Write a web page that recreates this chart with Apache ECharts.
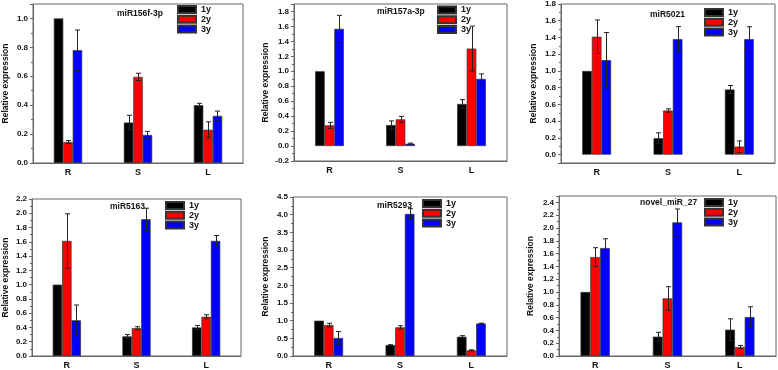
<!DOCTYPE html>
<html><head><meta charset="utf-8">
<script src="https://cdn.jsdelivr.net/npm/echarts@6/dist/echarts.min.js"></script>
<style>html,body{margin:0;padding:0;background:#fff}#c{width:778px;height:370px}</style>
</head><body><div id="c"></div>
<script>
// ---- data ----
const categories = ['R', 'S', 'L'];
const seriesNames = ['1y', '2y', '3y'];
const panelTitles = ['miR156f-3p', 'miR157a-3p', 'miR5021', 'miR5163', 'miR5293', 'novel_miR_27'];

const miR156f_1y = [1.0, 0.28, 0.40];    const miR156f_1y_err = [0, 0.05, 0.013];
const miR156f_2y = [0.145, 0.596, 0.23]; const miR156f_2y_err = [0.01, 0.025, 0.055];
const miR156f_3y = [0.78, 0.194, 0.326]; const miR156f_3y_err = [0.14, 0.025, 0.033];

const miR157a_1y = [1.0, 0.281, 0.563];  const miR157a_1y_err = [0, 0.055, 0.058];
const miR157a_2y = [0.277, 0.357, 1.304];const miR157a_2y_err = [0.04, 0.04, 0.30];
const miR157a_3y = [1.568, 0.031, 0.898];const miR157a_3y_err = [0.18, 0.008, 0.067];

const miR5021_1y = [1.0, 0.196, 0.778];  const miR5021_1y_err = [0, 0.064, 0.048];
const miR5021_2y = [1.409, 0.527, 0.096];const miR5021_2y_err = [0.2, 0.02, 0.068];
const miR5021_3y = [1.129, 1.38, 1.38];  const miR5021_3y_err = [0.33, 0.15, 0.148];

const miR5163_1y = [1.0, 0.275, 0.40];   const miR5163_1y_err = [0, 0.025, 0.028];
const miR5163_2y = [1.613, 0.39, 0.55];  const miR5163_2y_err = [0.38, 0.02, 0.028];
const miR5163_3y = [0.50, 1.916, 1.613]; const miR5163_3y_err = [0.215, 0.155, 0.075];

const miR5293_1y = [1.0, 0.31, 0.546];   const miR5293_1y_err = [0, 0.01, 0.03];
const miR5293_2y = [0.876, 0.81, 0.16];  const miR5293_2y_err = [0.05, 0.045, 0.015];
const miR5293_3y = [0.51, 4.02, 0.92];   const miR5293_3y_err = [0.18, 0.15, 0.01];

const novel27_1y = [1.0, 0.302, 0.411];  const novel27_1y_err = [0, 0.068, 0.17];
const novel27_2y = [1.546, 0.90, 0.14];  const novel27_2y_err = [0.146, 0.183, 0.025];
const novel27_3y = [1.687, 2.087, 0.609];const novel27_3y_err = [0.145, 0.21, 0.16];

// axis ranges (tick labels)
const yMin  = [0, -0.2, -0.1, 0, 0, 0];
const yMax  = [1.1, 1.9, 1.8, 2.2, 4.5, 2.5];
const yStep = [0.2, 0.2, 0.2, 0.2, 0.5, 0.2];

// ---- layout / style ----
const FONT = 'Liberation Sans, Arial, sans-serif';
const colors = ['#000000', '#ff0000', '#0000ff'];
const BW = 0.135;
const panels = [
  { vals: [miR156f_1y, miR156f_2y, miR156f_3y], errs: [miR156f_1y_err, miR156f_2y_err, miR156f_3y_err] },
  { vals: [miR157a_1y, miR157a_2y, miR157a_3y], errs: [miR157a_1y_err, miR157a_2y_err, miR157a_3y_err] },
  { vals: [miR5021_1y, miR5021_2y, miR5021_3y], errs: [miR5021_1y_err, miR5021_2y_err, miR5021_3y_err] },
  { vals: [miR5163_1y, miR5163_2y, miR5163_3y], errs: [miR5163_1y_err, miR5163_2y_err, miR5163_3y_err] },
  { vals: [miR5293_1y, miR5293_2y, miR5293_3y], errs: [miR5293_1y_err, miR5293_2y_err, miR5293_3y_err] },
  { vals: [novel27_1y, novel27_2y, novel27_3y], errs: [novel27_1y_err, novel27_2y_err, novel27_3y_err] }
];
const grids = [
  { left: 28, top: 4, width: 215, height: 159 },
  { left: 294, top: 4, width: 213, height: 157 },
  { left: 561, top: 4, width: 214, height: 159 },
  { left: 27, top: 199, width: 214, height: 158 },
  { left: 293, top: 197, width: 214, height: 160 },
  { left: 559, top: 196, width: 217, height: 161 }
];
const titlePos = [[117, 9], [377, 7], [650, 10], [110, 202], [377, 201], [640, 198]];
const legendPos = [[177, 5], [437, 5.5], [704, 8], [165, 201], [422, 199], [704, 198]];
const nameGaps = [23, 24, 23, 22, 23, 24];

function makeErr(k) {
  return function (params, api) {
    const j = api.value(0), v = api.value(1), e = api.value(2);
    if (!e) return null;
    const band = api.size([1, 0])[0];
    const x = Math.round(api.coord([j, v])[0] + (k - 1) * band * BW) + 0.5;
    const yt = api.coord([j, v + e])[1], yb = api.coord([j, v - e])[1];
    const cw = 2.5;
    const st = { stroke: '#222', lineWidth: 1 };
    return { type: 'group', children: [
      { type: 'line', shape: { x1: x, y1: yt, x2: x, y2: yb }, style: st },
      { type: 'line', shape: { x1: x - cw, y1: yt, x2: x + cw, y2: yt }, style: st },
      { type: 'line', shape: { x1: x - cw, y1: yb, x2: x + cw, y2: yb }, style: st }
    ]};
  };
}

const option = { animation: false, grid: [], xAxis: [], yAxis: [], series: [], title: [], legend: [] };
panels.forEach((p, i) => {
  option.grid.push(Object.assign({ show: true, borderColor: '#666', borderWidth: 1, backgroundColor: 'transparent' }, grids[i]));
  option.xAxis.push({
    type: 'category', gridIndex: i, data: categories,
    axisLine: { onZero: false, lineStyle: { color: '#666' } },
    axisTick: { alignWithLabel: true, length: 3, lineStyle: { color: '#666' } },
    axisLabel: { fontSize: 9, fontWeight: 'bold', color: '#111', margin: 5, fontFamily: FONT },
    splitLine: { show: false }
  });
  const isMult = v => Math.abs(v / yStep[i] - Math.round(v / yStep[i])) < 1e-6;
  option.yAxis.push({
    type: 'value', gridIndex: i, min: yMin[i], max: yMax[i],
    minInterval: yStep[i], maxInterval: yStep[i],
    splitNumber: Math.round((yMax[i] - yMin[i]) / yStep[i]),
    name: 'Relative expression', nameLocation: 'middle', nameGap: nameGaps[i],
    nameTextStyle: { fontSize: 8.5, fontWeight: 'bold', color: '#111', fontFamily: FONT },
    axisLine: { show: true, lineStyle: { color: '#666' } },
    axisTick: { show: true, length: 3, lineStyle: { color: '#666' } },
    minorTick: { show: true, splitNumber: 2, length: 2, lineStyle: { color: '#666' } },
    splitLine: { show: false },
    axisLabel: {
      fontSize: 8, fontWeight: 'bold', color: '#111', margin: 5, fontFamily: FONT,
      showMinLabel: isMult(yMin[i]), showMaxLabel: isMult(yMax[i]),
      formatter: v => v.toFixed(1)
    }
  });
  option.title.push({
    text: panelTitles[i], left: titlePos[i][0], top: titlePos[i][1], padding: 0,
    textStyle: { fontSize: 8.5, fontWeight: 'bold', color: '#111', fontFamily: FONT }
  });
  option.legend.push({
    data: seriesNames, orient: 'vertical', left: legendPos[i][0], top: legendPos[i][1],
    padding: 0, itemWidth: 18, itemHeight: 7, itemGap: 0.8, icon: 'rect', selectedMode: false,
    textStyle: { fontSize: 9, fontWeight: 'bold', color: '#111', fontFamily: FONT, lineHeight: 7 }
  });
  for (let k = 0; k < 3; k++) {
    option.series.push({
      type: 'bar', name: seriesNames[k], xAxisIndex: i, yAxisIndex: i, data: p.vals[k],
      barWidth: (BW * 100) + '%', barGap: '0%',
      itemStyle: { color: colors[k], borderColor: '#333', borderWidth: 0.7 }
    });
  }
  for (let k = 0; k < 3; k++) {
    option.series.push({
      type: 'custom', name: 'err' + k, xAxisIndex: i, yAxisIndex: i, z: 5, silent: true,
      data: p.vals[k].map((v, j) => [j, v, p.errs[k][j]]),
      renderItem: makeErr(k)
    });
  }
});
const chart = echarts.init(document.getElementById('c'), null, { renderer: 'canvas' });
chart.setOption(option);
</script></body></html>
